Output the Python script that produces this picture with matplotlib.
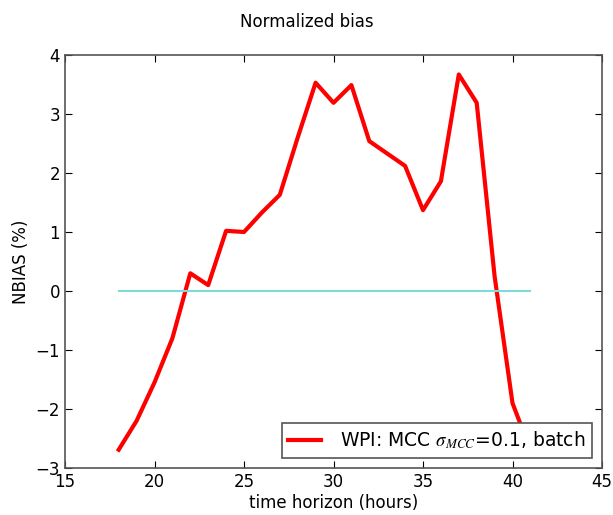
import matplotlib
matplotlib.use("Agg")
import matplotlib.pyplot as plt

plt.rcParams["mathtext.fontset"] = "stix"

# lead time (hours) and normalized bias (%)
hours = [18, 19, 20, 21, 22, 23, 24, 25, 26, 27, 28, 29, 30, 31, 32, 33, 34,
         35, 36, 37, 38, 39, 40, 41]
nbias = [-2.69, -2.2, -1.55, -0.8, 0.3, 0.1, 1.02, 1.0, 1.33, 1.63, 2.6, 3.53,
         3.19, 3.49, 2.54, 2.33, 2.12, 1.37, 1.86, 3.67, 3.19, 0.25, -1.9, -2.7]
zero_x = [18, 41]
zero_y = [0, 0]

fig = plt.figure(figsize=(6.13, 5.15), dpi=100)
ax = fig.add_axes([65 / 613, 1 - 468 / 515, 537 / 613, 413 / 515])

ax.plot(hours, nbias, color="red", lw=3,
        label=r"WPI: MCC $\sigma_{MCC}$=0.1, batch")
ax.plot(zero_x, zero_y, color="#80dada", lw=1.5)

ax.set_xlim(15, 45)
ax.set_ylim(-3, 4)
ax.set_xticks(range(15, 46, 5))
ax.set_yticks(range(-3, 5))
ax.tick_params(direction="in", top=True, right=True, labelsize=12, length=5)
for s in ax.spines.values():
    s.set_color("#555555")
    s.set_linewidth(1.2)

ax.set_xlabel("time horizon (hours)", fontsize=12, labelpad=2)
ax.set_ylabel("NBIAS (%)", fontsize=12)
fig.suptitle("Normalized bias", fontsize=12, y=0.975)

leg = ax.legend(loc="lower right", fontsize=13.5, fancybox=False,
                borderaxespad=0.55, handlelength=1.75, handletextpad=1.0,
                borderpad=0.35, framealpha=1)
leg.get_frame().set_edgecolor("#555555")
leg.get_frame().set_linewidth(1.2)

fig.savefig("out.png", dpi=100)
